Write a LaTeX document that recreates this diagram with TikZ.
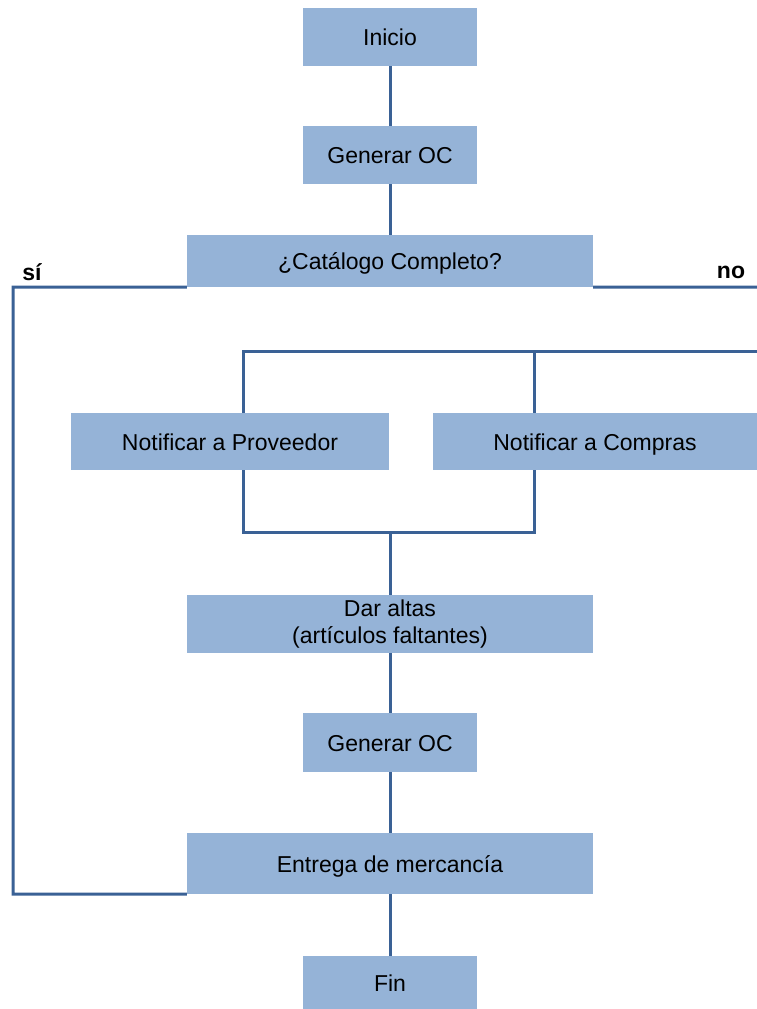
\documentclass[tikz,border=0pt]{standalone}
\usepackage{fontspec}
\setmainfont{Liberation Sans}
\usetikzlibrary{backgrounds}
\definecolor{boxfill}{HTML}{95B3D7}
\definecolor{linec}{HTML}{3A6195}
\begin{document}
\begin{tikzpicture}[x=1pt,y=-1pt,
  box/.style={fill=boxfill, draw=none, inner sep=0pt, align=center,
    text height=19.5pt, text depth=2.5pt,
    font=\fontsize{23}{27}\selectfont},
  conn/.style={draw=linec, line width=3pt},
  lbl/.style={font=\fontsize{23}{27}\selectfont\bfseries, inner sep=0pt}]
\useasboundingbox (0,0) rectangle (757,1009);
\node[box, minimum width=174pt, minimum height=58pt] (ini) at (390,37) {Inicio};
\node[box, minimum width=174pt, minimum height=58pt] (gen1) at (390,155) {Generar OC};
\node[box, minimum width=406pt, minimum height=52pt] (cat) at (390,261) {¿Catálogo Completo?};
\node[box, minimum width=318pt, minimum height=57pt] (prov) at (230,441.5) {Notificar a Proveedor};
\node[box, minimum width=324pt, minimum height=57pt] (comp) at (595,441.5) {Notificar a Compras};
\node[box, minimum width=406pt, minimum height=58pt, text height=, text depth=] (dar) at (390,624) {Dar altas\\(artículos faltantes)};
\node[box, minimum width=174pt, minimum height=59pt] (gen2) at (390,742.5) {Generar OC};
\node[box, minimum width=406pt, minimum height=61pt] (ent) at (390,863.5) {Entrega de mercancía};
\node[box, minimum width=174pt, minimum height=53pt] (fin) at (390,982.5) {Fin};
\node[lbl] (si) at (32,272) {sí};
\node[lbl] (no) at (731,272) {no};
\coordinate (sl) at (13,287);
\coordinate (nr) at (757,287);
\coordinate (dr) at (757,351);
\coordinate (pt) at (243,351);
\coordinate (ct) at (534,351);
\coordinate (pb) at (243,532);
\coordinate (cb) at (534,532);
\begin{scope}[on background layer]
\draw[conn] (ini.south) -- (gen1.north);
\draw[conn] (gen1.south) -- (cat.north);
\draw[conn] (cat.south west) -- (sl) |- (ent.south west);
\draw[conn] (cat.south east) -- (nr);
\draw[conn] (dr) -- (pt) -- (pt |- prov.north);
\draw[conn] (ct) -- (ct |- comp.north);
\draw[conn] (pb |- prov.south) -- (pb) -- (cb) -- (cb |- comp.south);
\draw[conn] (dar.north |- pb) -- (dar.north);
\draw[conn] (dar.south) -- (gen2.north);
\draw[conn] (gen2.south) -- (ent.north);
\draw[conn] (ent.south) -- (fin.north);
\end{scope}
\end{tikzpicture}
\end{document}
